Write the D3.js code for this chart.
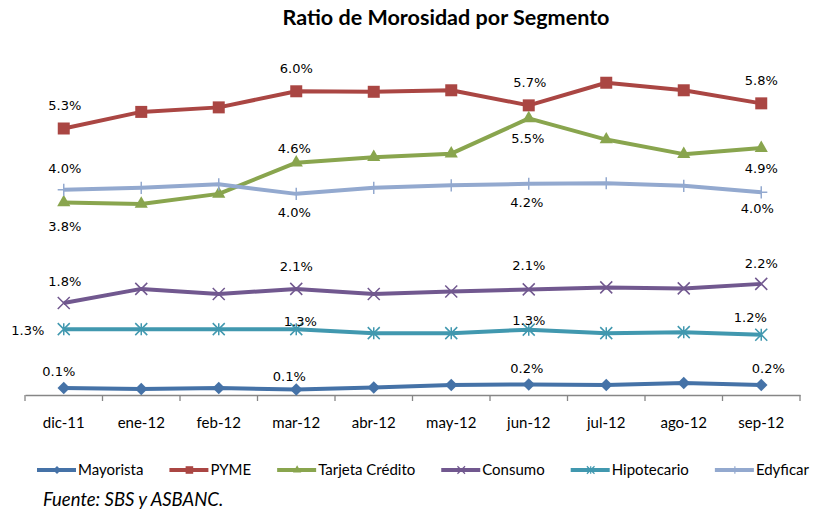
<!DOCTYPE html>
<html>
<head>
<meta charset="utf-8">
<script src="https://cdn.jsdelivr.net/npm/d3@7"></script>
<style>
    body {margin: 0; background: #fff;}
</style>
</head>
<body>
<div id="chart"></div>
<script>
const categories = ["dic-11","ene-12","feb-12","mar-12","abr-12","may-12","jun-12","jul-12","ago-12","sep-12"];
const mayorista   = [0.10, 0.08, 0.10, 0.07, 0.11, 0.16, 0.17, 0.16, 0.20, 0.16];
const pyme        = [5.26, 5.59, 5.68, 6.00, 5.99, 6.02, 5.72, 6.17, 6.02, 5.76];
const tarjeta     = [3.79, 3.76, 3.96, 4.58, 4.69, 4.76, 5.46, 5.04, 4.75, 4.87];
const consumo     = [1.79, 2.07, 1.97, 2.07, 1.97, 2.02, 2.06, 2.10, 2.08, 2.17];
const hipotecario = [1.27, 1.27, 1.27, 1.27, 1.19, 1.19, 1.26, 1.19, 1.21, 1.16];
const edyficar    = [4.04, 4.08, 4.15, 3.96, 4.08, 4.13, 4.16, 4.17, 4.12, 3.99];
const seriesNames = ["Mayorista","PYME","Tarjeta Crédito","Consumo","Hipotecario","Edyficar"];
const labelIndex = [0, 3, 6, 9]; // puntos con etiqueta

class LineChart {
    constructor() {
        this._width = 825;
        this._height = 510;
        this._margins = {top: 41, left: 25, right: 25, bottom: 115};
        this._colors = ["#4572A7","#AA4643","#89A54E","#71588F","#4198AF","#93A9CF"];
        // desplazamiento de cada etiqueta respecto a su punto [dx, dy]
        this._labelPos = [
            [[-5,-17],[-7,-13],[-2,-16],[7,-17]],
            [[1,-23],[0,-23],[1,-23],[0,-23]],
            [[1,24],[-2,-14],[-1,20],[0,20]],
            [[1,-22],[0,-23],[0,-24],[0,-21]],
            [[-36,1],[4,-8],[0,-9],[-11,-17]],
            [[1,-22],[-2,18],[-2,19],[-4,16]]
        ];
        this._data = [];
        this._svg = null;
    }
    data(d) {
        if (arguments.length === 0) return this._data;
        this._data = d;
        return this;
    }

    markers() {
        const asterisk = {
            draw(ctx, size) {
                const r = Math.sqrt(size) / 2;
                ctx.moveTo(-r, -r); ctx.lineTo(r, r);
                ctx.moveTo(-r, r); ctx.lineTo(r, -r);
                ctx.moveTo(0, -r); ctx.lineTo(0, r);
            }
        };
        const cross = {
            draw(ctx, size) {
                const r = Math.sqrt(size) / 2;
                ctx.moveTo(-r, -r); ctx.lineTo(r, r);
                ctx.moveTo(-r, r); ctx.lineTo(r, -r);
            }
        };
        return [
            {type: d3.symbolDiamond2 || d3.symbolDiamond, size: 100, fill: true},
            {type: d3.symbolSquare, size: 144, fill: true},
            {type: d3.symbolTriangle, size: 75, fill: true},
            {type: cross, size: 144, fill: false},
            {type: asterisk, size: 144, fill: false},
            {type: d3.symbolPlus || d3.symbolCross, size: 50, fill: false}
        ];
    }

    render() {
        this._svg = d3.select("#chart").append("svg")
            .attr("width", this._width)
            .attr("height", this._height);
        const svg = this._svg;

        const x = d3.scaleBand().domain(categories)
            .range([this._margins.left, this._width - this._margins.right]);
        const y = d3.scaleLinear().domain([-0.04, 7])
            .range([this._height - this._margins.bottom, this._margins.top]);
        const cx = c => x(c) + x.bandwidth() / 2;
        const baseY = y.range()[0];

        svg.append("text")
            .attr("x", 446).attr("y", 25)
            .attr("text-anchor", "middle")
            .attr("font-family", "Lato, 'Open Sans', sans-serif")
            .attr("font-weight", "bold")
            .attr("font-size", 20)
            .attr("textLength", 327).attr("lengthAdjust", "spacingAndGlyphs")
            .text("Ratio de Morosidad por Segmento");

        // eje X
        const axis = svg.append("g")
            .attr("transform", `translate(0,${baseY})`)
            .call(d3.axisBottom(x).tickSize(0).tickPadding(22));
        axis.select(".domain").attr("stroke", "#868686").attr("stroke-width", 1.3);
        axis.selectAll("text")
            .attr("font-family", "Lato, sans-serif")
            .attr("font-size", 15)
            .attr("fill", "#000");
        const edges = categories.map(c => x(c)).concat([x.range()[1]]);
        axis.selectAll(".edge").data(edges).join("line")
            .attr("x1", d => d).attr("x2", d => d)
            .attr("y1", 0).attr("y2", 6)
            .attr("stroke", "#868686").attr("stroke-width", 1.3);

        const markers = this.markers();
        const line = d3.line().x((d, i) => cx(categories[i])).y(d => y(d));

        this._data.forEach((s, k) => {
            const color = this._colors[k];
            const g = svg.append("g");
            g.append("path")
                .attr("d", line(s.values))
                .attr("fill", "none")
                .attr("stroke", color)
                .attr("stroke-width", 4)
                .attr("stroke-linejoin", "round");
            const m = markers[k];
            g.selectAll("path.mk").data(s.values).join("path")
                .attr("class", "mk")
                .attr("transform", (d, i) => `translate(${cx(categories[i])},${y(d)})`)
                .attr("d", d3.symbol().type(m.type).size(m.size))
                .attr("fill", m.fill ? color : "none")
                .attr("stroke", color)
                .attr("stroke-width", m.fill ? 0 : 1.5);
        });

        // etiquetas de datos
        this._data.forEach((s, k) => {
            svg.append("g").selectAll("text").data(labelIndex).join("text")
                .attr("x", (d, j) => cx(categories[d]) + this._labelPos[k][j][0])
                .attr("y", (d, j) => y(s.values[d]) + this._labelPos[k][j][1])
                .attr("dy", "0.36em")
                .attr("text-anchor", "middle")
                .attr("font-family", "'DejaVu Sans', Verdana, sans-serif")
                .attr("font-size", 13)
                .attr("fill", "#000")
                .text(d => s.values[d].toFixed(1) + "%");
        });

        // leyenda
        const legend = svg.append("g").attr("transform", "translate(37,470)");
        let lx = 0;
        this._data.forEach((s, k) => {
            const color = this._colors[k];
            const item = legend.append("g").attr("transform", `translate(${lx},0)`);
            item.append("line")
                .attr("x1", 0).attr("x2", 39)
                .attr("stroke", color).attr("stroke-width", 4);
            const m = markers[k];
            item.append("path")
                .attr("transform", "translate(20,0)")
                .attr("d", d3.symbol().type(m.type).size(m.size * 0.4))
                .attr("fill", m.fill ? color : "none")
                .attr("stroke", color)
                .attr("stroke-width", m.fill ? 0 : 1.2);
            const t = item.append("text")
                .attr("x", 41).attr("dy", "0.35em")
                .attr("font-family", "Lato, sans-serif")
                .attr("font-size", 15)
                .text(s.name);
            lx += 41 + t.node().getComputedTextLength() + 26;
        });

        svg.append("text")
            .attr("x", 43).attr("y", 506)
            .attr("font-family", "Lato, sans-serif")
            .attr("font-style", "italic")
            .attr("font-size", 18.5)
            .text("Fuente: SBS y ASBANC.");
        return this;
    }
}

const seriesValues = [mayorista, pyme, tarjeta, consumo, hipotecario, edyficar];
new LineChart()
    .data(seriesNames.map((n, i) => ({name: n, values: seriesValues[i]})))
    .render();
</script>
</body>
</html>
